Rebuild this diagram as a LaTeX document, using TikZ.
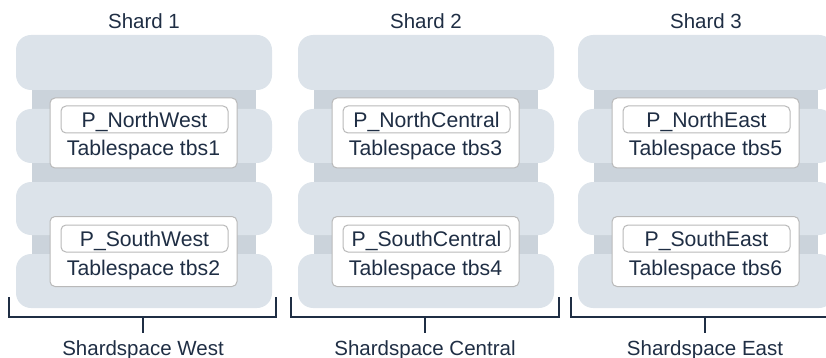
\documentclass[tikz,border=0pt]{standalone}
\usepackage{fontspec}
\setmainfont{Liberation Sans}
\definecolor{navy}{RGB}{31,46,68}
\definecolor{diskc}{RGB}{220,227,234}
\definecolor{corec}{RGB}{203,211,219}
\definecolor{boxline}{RGB}{185,185,185}
\tikzset{
  lbl/.style={text=navy, font=\fontsize{20.5}{24}\selectfont, inner sep=0pt, anchor=base},
  ilbl/.style={lbl, font=\fontsize{21.2}{24}\selectfont},
  diskpart/.style={fill=diskc, draw=none, rounded corners=15pt},
  corepart/.style={fill=corec, draw=none},
  tbsbox/.style={draw=boxline, line width=1pt, fill=white, rounded corners=5pt, minimum width=187pt, minimum height=70pt, inner sep=0pt},
  partbox/.style={draw=boxline, line width=1pt, fill=white, rounded corners=5pt, minimum width=167pt, minimum height=27pt, inner sep=0pt},
  brk/.style={draw=navy, line width=1.3pt},
}
\newcommand{\drawshard}[7]{%
  \begin{scope}[xshift=#1pt]
    \fill[corepart] (16,60) rectangle (240,280);
    \fill[diskpart] (0,35) rectangle (256,90);
    \fill[diskpart] (0,109) rectangle (256,163);
    \fill[diskpart] (0,182) rectangle (256,235);
    \fill[diskpart] (0,254) rectangle (256,308);
    \node[lbl] (title#7) at (128,29) {#2};
    \node[tbsbox] (tbA#7) at (127.5,133) {};
    \node[partbox] (pA#7) at (128.5,119.5) {};
    \node[ilbl] (pAt#7) at (128.5,128) {#3};
    \node[ilbl] (tA#7) at (127.5,156) {#4};
    \node[tbsbox] (tbB#7) at (127.5,251.5) {};
    \node[partbox] (pB#7) at (128.5,238.5) {};
    \node[ilbl] (pBt#7) at (128.5,246.5) {#5};
    \node[ilbl] (tB#7) at (127.5,275) {#6};
  \end{scope}}
\begin{document}
\begin{tikzpicture}[x=1pt,y=-1pt]
\useasboundingbox (0,0) rectangle (826,358);
\drawshard{16}{Shard 1}{P\_NorthWest}{Tablespace tbs1}{P\_SouthWest}{Tablespace tbs2}{1}
\drawshard{298}{Shard 2}{P\_NorthCentral}{Tablespace tbs3}{P\_SouthCentral}{Tablespace tbs4}{2}
\drawshard{578}{Shard 3}{P\_NorthEast}{Tablespace tbs5}{P\_SouthEast}{Tablespace tbs6}{3}
% brackets
\coordinate (w1) at (9,297); \coordinate (w2) at (9,317); \coordinate (w3) at (276,317); \coordinate (w4) at (276,297);
\coordinate (wt1) at (143,317); \coordinate (wt2) at (143,333);
\draw[brk] (w1) -- (w2) -- (w3) -- (w4);
\draw[brk] (wt1) -- (wt2);
\node[lbl] (ssw) at (143,355) {Shardspace West};
\coordinate (c1) at (291,297); \coordinate (c2) at (291,317); \coordinate (c3) at (559,317); \coordinate (c4) at (559,297);
\coordinate (ct1) at (425,317); \coordinate (ct2) at (425,333);
\draw[brk] (c1) -- (c2) -- (c3) -- (c4);
\draw[brk] (ct1) -- (ct2);
\node[lbl] (ssc) at (425,355) {Shardspace Central};
\coordinate (e1) at (571,297); \coordinate (e2) at (571,317); \coordinate (e3) at (840,317); \coordinate (e4) at (840,297);
\coordinate (et1) at (705,317); \coordinate (et2) at (705,333);
\draw[brk] (e1) -- (e2) -- (e3) -- (e4);
\draw[brk] (et1) -- (et2);
\node[lbl] (sse) at (705,355) {Shardspace East};
\end{tikzpicture}
\end{document}
